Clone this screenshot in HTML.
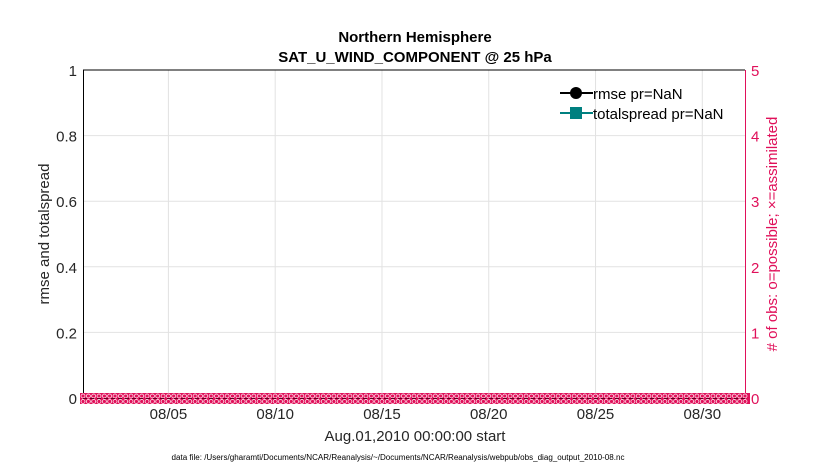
<!DOCTYPE html>
<html><head><meta charset="utf-8"><style>
body{margin:0;background:#fff;width:830px;height:470px;overflow:hidden}
text{font-family:"Liberation Sans",sans-serif}
</style></head><body>
<svg id="s" width="830" height="470" xmlns="http://www.w3.org/2000/svg">
<rect x="0" y="0" width="830" height="470" fill="#fff"/>
<rect x="83" y="70" width="662" height="328" fill="#fff"/>
<g id="grid" stroke="#e2e2e2" stroke-width="1"></g>
<g stroke="#000" stroke-width="1" fill="none">
<line x1="83" y1="70" x2="745" y2="70"/>
<line x1="83.5" y1="70" x2="83.5" y2="398"/>
<line x1="83" y1="398" x2="745" y2="398"/>
</g>
<line x1="745.5" y1="70" x2="745.5" y2="398" stroke="#e0105a"/>
<g id="ticks"></g>
<rect x="80" y="393" width="670" height="11" fill="#e0105a"/>
<g id="mk" fill="none" stroke="#fff" stroke-width="0.7"></g>
<line x1="83" y1="398.5" x2="745" y2="398.5" stroke="#600020" stroke-width="1" stroke-dasharray="4,3"/>
<text x="415" y="42" font-size="15" font-weight="bold" text-anchor="middle">Northern Hemisphere</text>
<text x="415" y="62" font-size="15" font-weight="bold" text-anchor="middle">SAT_U_WIND_COMPONENT @ 25 hPa</text>
<text x="415" y="441" font-size="15" text-anchor="middle" fill="#262626">Aug.01,2010 00:00:00 start</text>
<text x="398" y="460" font-size="8" text-anchor="middle" textLength="453" lengthAdjust="spacingAndGlyphs">data file: /Users/gharamti/Documents/NCAR/Reanalysis/~/Documents/NCAR/Reanalysis/webpub/obs_diag_output_2010-08.nc</text>
<text transform="translate(49,234) rotate(-90)" font-size="15" text-anchor="middle" fill="#262626">rmse and totalspread</text>
<text transform="translate(777,234) rotate(-90)" font-size="15" text-anchor="middle" fill="#e0105a"># of obs: o=possible; ×=assimilated</text>
<line x1="560" y1="93" x2="593" y2="93" stroke="#000" stroke-width="2"/>
<circle cx="576" cy="93" r="6" fill="#000"/>
<text x="593" y="99" font-size="15" fill="#000">rmse pr=NaN</text>
<line x1="560" y1="113" x2="593" y2="113" stroke="#008080" stroke-width="2"/>
<rect x="570" y="107" width="12" height="12" fill="#008080"/>
<text x="593" y="119" font-size="15" fill="#000">totalspread pr=NaN</text>
</svg>
<script>
var ns="http://www.w3.org/2000/svg",g=document.getElementById('grid'),t=document.getElementById('ticks'),m=document.getElementById('mk');
function el(p,n,a,txt){var e=document.createElementNS(ns,n);for(var k in a)e.setAttribute(k,a[k]);if(txt!==undefined)e.textContent=txt;p.appendChild(e);return e;}
var labs=['08/05','08/10','08/15','08/20','08/25','08/30'];
for(var i=0;i<6;i++){var x=83+(4+5*i)*662/31;el(g,'line',{x1:x,y1:70,x2:x,y2:398});
el(t,'text',{x:x,y:419,'font-size':15,'text-anchor':'middle',fill:'#262626'},labs[i]);}
var yl=['0','0.2','0.4','0.6','0.8','1'];
for(var j=0;j<=5;j++){var y=398-j*65.6;if(j>0&&j<5)el(g,'line',{x1:83,y1:y,x2:745,y2:y});
el(t,'text',{x:77,y:y+6,'font-size':15,'text-anchor':'end',fill:'#262626'},yl[j]);
el(t,'text',{x:751,y:y+6,'font-size':15,fill:'#e0105a'},j);}
for(var k=0;k<=124;k++){var x=83+k*662/124;el(m,'circle',{cx:x,cy:396,r:2});el(m,'circle',{cx:x,cy:401.5,r:2});}
</script>
</body></html>
